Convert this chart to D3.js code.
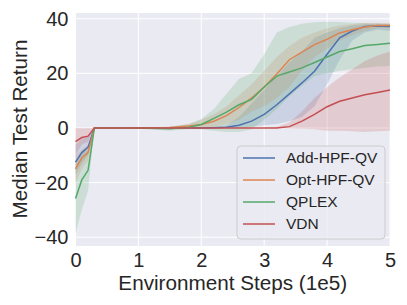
<!DOCTYPE html>
<html>
<head>
<meta charset="utf-8">
<script src="https://cdn.jsdelivr.net/npm/d3@7"></script>
<style>
	body{margin:0;background:#fff;}
	text{font-family:"Liberation Sans", Arial, sans-serif;fill:#262626;}
</style>
</head>
<body>
<div id="chart"></div>
<script>
// environment steps (1e5)
const steps = [0,0.1,0.2,0.3,0.5,1.0,1.5,1.8,2.0,2.2,2.4,2.6,2.8,3.0,3.2,3.4,3.6,3.8,4.0,4.2,4.4,4.6,4.8,5.0];

const addMed = [-12.5,-9,-7,0,0,0,0,0,0,0.1,0.3,1.0,2.5,5,8.5,12.5,16.5,20.8,27,33,35.5,37.2,37.3,37.2];
const addLo  = [-17,-13,-10,0,0,0,0,0,0,0,0,0,0.5,1,1.5,2.5,4,8,16,25,32,35,36,35.5];
const addHi  = [-6,-4,-3,0,0,0,0,0.2,0.3,0.5,1,4,9,14,19,24,28,33,35,36.5,37.5,38,38.2,38];

const optMed = [-15,-11,-9,0,0,0,0.2,0.7,1.3,2.5,4.5,7.5,11,15,19.8,25,27.8,30.5,32.5,34.8,36,37,37.5,37.5];
const optLo  = [-20,-15,-12,0,0,0,0,0,0,0.5,1.5,3,6,8,11,15,21,26,29,32,34,35.5,36.5,36.5];
const optHi  = [-10,-8,-6,0,0,0,0.5,1.5,3,5,8,12,16,21,26,30,33,35,36.5,37.5,38,38.5,38.5,38.5];

const qplexMed = [-25.8,-19,-15.5,0,0,0,-0.3,0.3,1.3,3.5,5.8,8.5,10.5,15,19,20.5,22,24,26,28,29,30.2,30.6,31];
const qplexLo  = [-38.5,-30,-23,0,0,-0.3,-1,-0.5,-0.5,-1,-1.5,-1.5,-0.5,3,7,11.5,15.5,19,20,21,21.5,22,22.5,22.7];
const qplexHi  = [-12,-9,-8,0,0,0.2,0.5,1.5,3.3,7,12.5,18,20,27,35,37,38.2,38.7,38.9,38.8,38.5,38.4,38.3,38.2];

const vdnMed = [-5,-3.5,-3,0,0,0,0,0,0,0,0,0,0,0,0,0.5,2.5,5,7.8,9.8,11,12.2,13,13.9];
const vdnLo  = [-10,-6,-5,0,0,0,0,0,0,0,0,0,0,0,0,-0.2,-0.3,-0.5,-1,-1,-1.2,-1.5,-1.2,-1];
const vdnHi  = [0,0,0,0,0,0,0,0,0,0,0,0,0,0,0.5,2,6,11,15,18.5,21.5,24.5,26.5,28];

const seriesNames = ['Add-HPF-QV','Opt-HPF-QV','QPLEX','VDN'];
const seriesColors = ['#4c72b0','#dd8452','#55a868','#c44e52'];
const xTicks = [0,1,2,3,4,5];
const yTicks = [-40,-20,0,20,40];

const series = [
	{med:addMed, lo:addLo, hi:addHi},
	{med:optMed, lo:optLo, hi:optHi},
	{med:qplexMed, lo:qplexLo, hi:qplexHi},
	{med:vdnMed, lo:vdnLo, hi:vdnHi}
].map((s,i) => Object.assign(s, {name:seriesNames[i], color:seriesColors[i]}));

const W = 407, H = 305;
const margin = {l:75.5, r:17, t:13, b:59};
const w = W - margin.l - margin.r;
const h = H - margin.t - margin.b;

const svg = d3.select('#chart').append('svg')
	.attr('width', W)
	.attr('height', H);

const plot = svg.append('g')
	.attr('transform', `translate(${margin.l},${margin.t})`);

const scaleX = d3.scaleLinear().domain([0,5]).range([0,w]);
const scaleY = d3.scaleLinear().domain([-43.2,42.1]).range([h,0]);

//background
plot.append('rect')
	.attr('width', w)
	.attr('height', h)
	.attr('fill', '#eaeaf2');

//grid
plot.append('g')
	.selectAll('line')
	.data(xTicks)
	.join('line')
	.attr('x1', d => scaleX(d)).attr('x2', d => scaleX(d))
	.attr('y1', 0).attr('y2', h)
	.attr('stroke', '#fff').attr('stroke-width', 1);
plot.append('g')
	.selectAll('line')
	.data(yTicks)
	.join('line')
	.attr('y1', d => scaleY(d)).attr('y2', d => scaleY(d))
	.attr('x1', 0).attr('x2', w)
	.attr('stroke', '#fff').attr('stroke-width', 1);

//bands
const area = d3.area()
	.x((d,i) => scaleX(steps[i]))
	.y0(d => scaleY(d[0]))
	.y1(d => scaleY(d[1]));

plot.append('g')
	.selectAll('path')
	.data(series)
	.join('path')
	.attr('d', s => area(s.lo.map((v,i) => [v, s.hi[i]])))
	.attr('fill', s => s.color)
	.attr('fill-opacity', 0.2)
	.attr('stroke', 'none');

//median lines
const line = d3.line()
	.x((d,i) => scaleX(steps[i]))
	.y(d => scaleY(d));

plot.append('g')
	.selectAll('path')
	.data(series)
	.join('path')
	.attr('d', s => line(s.med))
	.attr('fill', 'none')
	.attr('stroke', s => s.color)
	.attr('stroke-width', 1.5);

//axes
const axisX = d3.axisBottom(scaleX).tickValues(xTicks).tickSize(0).tickPadding(6.5)
	.tickFormat(d3.format('d'));
const axisY = d3.axisLeft(scaleY).tickValues(yTicks).tickSize(0).tickPadding(7)
	.tickFormat(d => d < 0 ? '\u2212' + Math.abs(d) : d);

const gx = plot.append('g')
	.attr('transform', `translate(0,${h})`)
	.call(axisX);
gx.select('.domain').remove();
gx.selectAll('text')
	.style('font-size', '20px')
	.attr('fill', '#262626')
	.style('font-family', '"Liberation Sans", Arial, sans-serif');

const gy = plot.append('g').call(axisY);
gy.select('.domain').remove();
gy.selectAll('text')
	.style('font-size', '20px')
	.attr('fill', '#262626')
	.style('font-family', '"Liberation Sans", Arial, sans-serif');

//axis labels
svg.append('text')
	.attr('x', margin.l + w/2)
	.attr('y', 290)
	.attr('text-anchor', 'middle')
	.style('font-size', '20.7px')
	.text('Environment Steps (1e5)');

svg.append('text')
	.attr('transform', `translate(27,${margin.t + 116}) rotate(-90)`)
	.attr('text-anchor', 'middle')
	.style('font-size', '20.7px')
	.text('Median Test Return');

//legend
const legend = svg.append('g')
	.attr('transform', 'translate(237,146)');
legend.append('rect')
	.attr('width', 148)
	.attr('height', 93)
	.attr('rx', 4)
	.attr('fill', '#eaeaf2')
	.attr('fill-opacity', 0.8)
	.attr('stroke', '#cccccc')
	.attr('stroke-width', 1);

const rows = legend.selectAll('g.row')
	.data(series)
	.join('g')
	.attr('transform', (d,i) => `translate(0,${12 + i*22})`);
rows.append('line')
	.attr('x1', 6).attr('x2', 38)
	.attr('stroke', d => d.color)
	.attr('stroke-width', 1.5);
rows.append('text')
	.attr('x', 49)
	.attr('dy', '0.35em')
	.style('font-size', '15.5px')
	.text(d => d.name);
</script>
</body>
</html>
